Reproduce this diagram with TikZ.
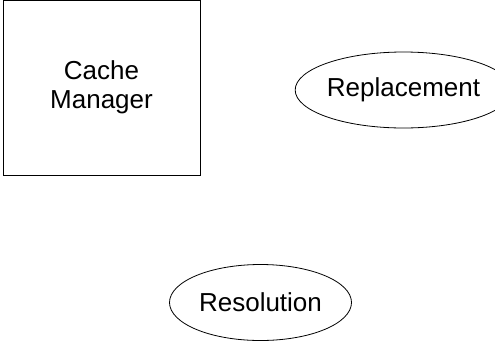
\documentclass[tikz,border=0pt]{standalone}
\usepackage{fontspec}
\setmainfont{Liberation Sans}
\usepackage{tikz}
\usetikzlibrary{shapes,positioning,shapes.geometric}

\begin{document}
\begin{tikzpicture}[
    x=1pt, y=1pt,
    manager/.style={rectangle, minimum width=197pt, minimum height=175pt, text centered, draw=black, line width=0.8pt, align=center, font=\fontsize{26}{29}\selectfont},
    policy/.style={ellipse, minimum width=182pt, minimum height=76pt, inner sep=0pt, draw=black, line width=0.8pt, font=\fontsize{26}{29}\selectfont}
]
\useasboundingbox (0,0) rectangle (495,-341);

% the cache manager box
\node (cache) [manager] at (101.5,-87.5) {Cache\\Manager};

% the two policy ellipses
\node (replace) [policy] at (403.5,-90) {Replacement};
\node (resolve) [policy] at (260.5,-302.5) {Resolution};

\end{tikzpicture}
\end{document}
